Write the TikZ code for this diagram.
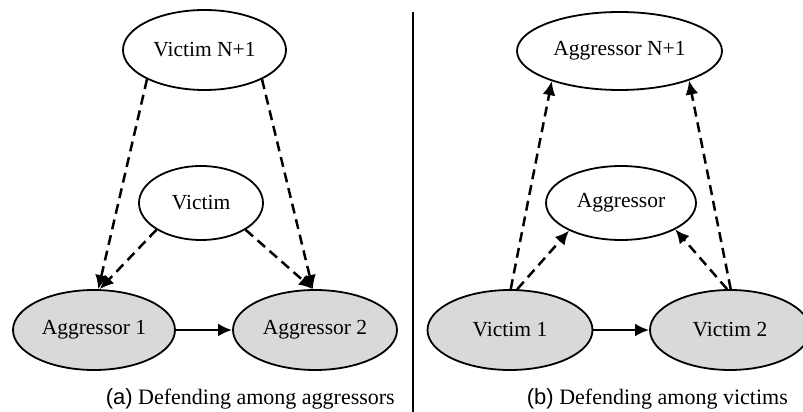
\documentclass[tikz,border=0pt]{standalone}
\usepackage{fontspec}
\setmainfont{Liberation Serif}
\newfontfamily\capsans{Liberation Sans}
\usepackage{tikz}
\usetikzlibrary{arrows.meta,shapes.geometric}

\definecolor{nodegray}{RGB}{217,217,217}

\begin{document}
\begin{tikzpicture}[x=1pt, y=1pt,
  every node/.style = {font=\fontsize{21.5}{26}\selectfont},
  plain/.style = {shape=ellipse, draw, line width=1.8pt,
    inner sep=0pt, fill=white},
  shaded/.style = {plain, fill=nodegray},
  link/.style = {line width=2.5pt, dash pattern=on 10pt off 6pt,
    -{Latex[length=14pt,width=13pt]}},
  push/.style = {line width=2.5pt, -{Latex[length=14pt,width=13pt]}},
  caption/.style = {anchor=base east, inner sep=0pt,
    font=\fontsize{22}{26}\selectfont}]
  \useasboundingbox (0,0) rectangle (803,412);

  % (a) defending among aggressors
  \node[plain, minimum width=163pt, minimum height=80pt] (vn1) at (204.5,362) {Victim N+1};
  \node[plain, minimum width=124pt, minimum height=74pt] (vic) at (201,209) {Victim};
  \node[shaded, minimum width=162pt, minimum height=80pt] (ag1) at (94,82) {Aggressor 1};
  \node[shaded, minimum width=164pt, minimum height=80pt] (ag2) at (315,82) {Aggressor 2};
  \draw[link] (vn1.207) -- (ag1.84);
  \draw[link] (vn1.333) -- (ag2.93);
  \draw[link] (vic.211) -- (ag1.82);
  \draw[link] (vic.329) -- (ag2.93);
  \draw[push] (ag1.east) -- (ag2.west);
  \node[caption] (capa) at (395,7) {{\capsans(a)} Defending among aggressors};

  % separator
  \coordinate (sept) at (413,400);
  \coordinate (sepb) at (413,0);
  \draw[line width=2.2pt] (sept) -- (sepb);

  % (b) defending among victims
  \node[plain, minimum width=205pt, minimum height=78pt] (an1) at (619.5,361) {Aggressor N+1};
  \node[plain, minimum width=150pt, minimum height=74pt] (agg) at (621,209) {Aggressor};
  \node[shaded, minimum width=165pt, minimum height=80pt] (vi1) at (510,82) {Victim 1};
  \node[shaded, minimum width=160pt, minimum height=80pt] (vi2) at (730,82) {Victim 2};
  \draw[link] (vi1.89) -- (an1.204);
  \draw[link] (vi2.89) -- (an1.337);
  \draw[link] (vi1.80) -- (agg.208);
  \draw[link] (vi2.94) -- (agg.334);
  \draw[push] (vi1.east) -- (vi2.west);
  \node[caption] (capb) at (788,7) {{\capsans(b)} Defending among victims};
\end{tikzpicture}
\end{document}
